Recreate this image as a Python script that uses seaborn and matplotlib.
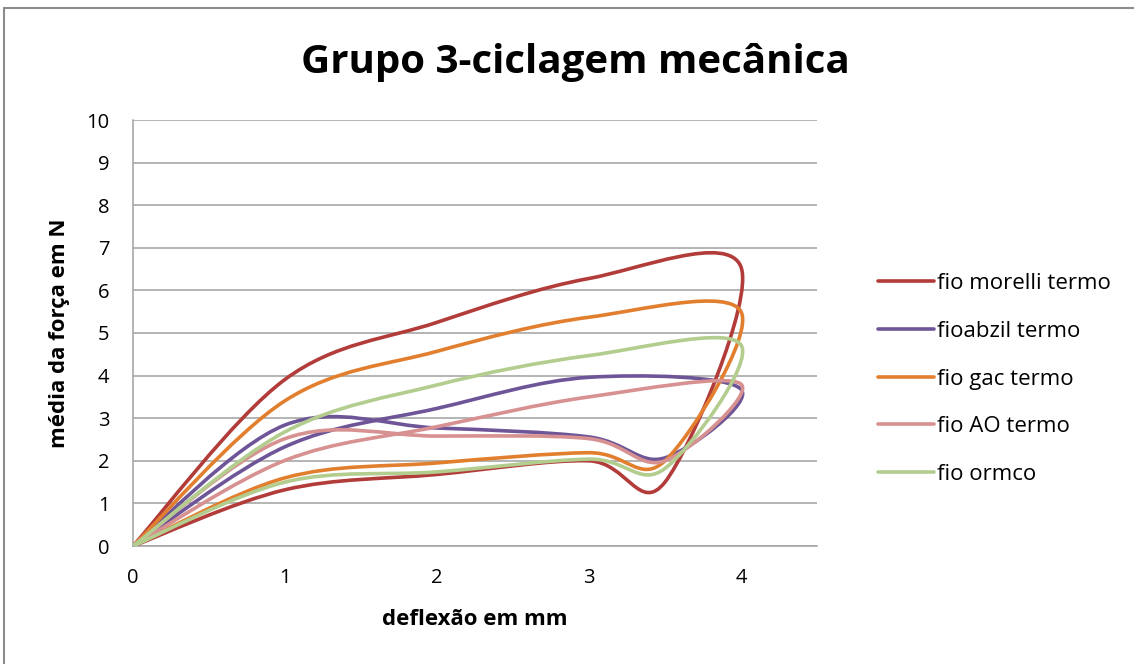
import numpy as np
import pandas as pd
import seaborn as sns
import matplotlib.pyplot as plt
from matplotlib.path import Path
from matplotlib.patches import PathPatch
from matplotlib.lines import Line2D

# deflection sequence: loading 0 -> 4, then back 4 -> 0
deflexao = [0, 1, 2, 3, 4, 3.5, 3, 2, 1, 0]

morelli = [0, 3.91, 5.25, 6.28, 6.55, 1.50, 2.00, 1.68, 1.32, 0]
abzil = [0, 2.33, 3.23, 3.96, 3.68, 2.07, 2.56, 2.77, 2.84, 0]
gac = [0, 3.41, 4.57, 5.37, 5.50, 2.00, 2.19, 1.95, 1.60, 0]
ao = [0, 2.01, 2.80, 3.50, 3.80, 2.00, 2.52, 2.58, 2.52, 0]
ormco = [0, 2.68, 3.78, 4.47, 4.72, 1.82, 2.04, 1.74, 1.50, 0]

series_names = ["fio morelli termo", "fioabzil termo", "fio gac termo",
                "fio AO termo", "fio ormco"]
series_vals = [morelli, abzil, gac, ao, ormco]
colors = ["#B23C39", "#6E5598", "#E27F2F", "#D69190", "#B3CD8F"]

df = pd.DataFrame({"x": deflexao * 5,
                   "y": sum(series_vals, []),
                   "fio": np.repeat(series_names, len(deflexao))})

sns.set_style("white")
plt.rcParams['font.family'] = ['Open Sans', 'DejaVu Sans']
plt.rcParams['text.color'] = 'black'
plt.rcParams['axes.labelcolor'] = 'black'

fig = plt.figure(figsize=(11.34, 6.64), dpi=100)
ax = fig.add_axes([133/1134, 1-546/664, 684/1134, 426/664])


def smooth_path(xs, ys):
    # Excel-like smoothed line: cubic bezier through every point
    pts = np.column_stack([xs, ys]).astype(float)
    n = len(pts)
    verts = [pts[0]]
    codes = [Path.MOVETO]
    for i in range(n - 1):
        p0 = pts[i - 1] if i > 0 else pts[i]
        p1, p2 = pts[i], pts[i + 1]
        p3 = pts[i + 2] if i + 2 < n else pts[i + 1]
        verts += [p1 + (p2 - p0) / 6, p2 - (p3 - p1) / 6, p2]
        codes += [Path.CURVE4] * 3
    return Path(verts, codes)


handles = []
for k, (name, col) in enumerate(zip(series_names, colors)):
    d = df[df.fio == name]
    path = smooth_path(d.x.values, d.y.values)
    ax.add_patch(PathPatch(path, facecolor="none", edgecolor=col, lw=2.6,
                           capstyle="round", joinstyle="round", zorder=3 + k))
    handles.append(Line2D([], [], color=col, lw=2.6, label=name))

ax.set_xlim(0, 4.5)
ax.set_ylim(0, 10)
ax.set_xticks([0, 1, 2, 3, 4])
ax.set_yticks(range(11))
ax.yaxis.grid(True, color="#A0A0A0", lw=1.1)
ax.xaxis.grid(False)
for s in ["top", "right"]:
    ax.spines[s].set_visible(False)
for s in ["left", "bottom"]:
    ax.spines[s].set_color("#A0A0A0")
    ax.spines[s].set_linewidth(1.1)
ax.tick_params(axis="both", length=0, labelsize=14.5, colors="black")
ax.tick_params(axis="x", pad=16)
ax.tick_params(axis="y", pad=17)

ax.set_xlabel("deflexão em mm", fontsize=16, fontweight="bold", labelpad=15)
ax.set_ylabel("média da força em N", fontsize=16, fontweight="bold", labelpad=12)

fig.text(575/1134, 1-62/664, "Grupo 3-ciclagem mecânica", fontsize=29,
         fontweight="bold", ha="center", va="center")

fig.legend(handles=handles, loc="center left",
           bbox_to_anchor=(858/1134, 1-379/664), frameon=False,
           fontsize=16, handlelength=2.5, handletextpad=0.15,
           labelspacing=1.2)

# outer chart border (top and left only visible)
fig.add_artist(Line2D([4/1134, 1], [1-8/664, 1-8/664], color="#8C8C8C",
                      lw=1.5, transform=fig.transFigure))
fig.add_artist(Line2D([4/1134, 4/1134], [0, 1-8/664], color="#8C8C8C",
                      lw=1.5, transform=fig.transFigure))

fig.savefig("out.png", dpi=100, facecolor="white")
